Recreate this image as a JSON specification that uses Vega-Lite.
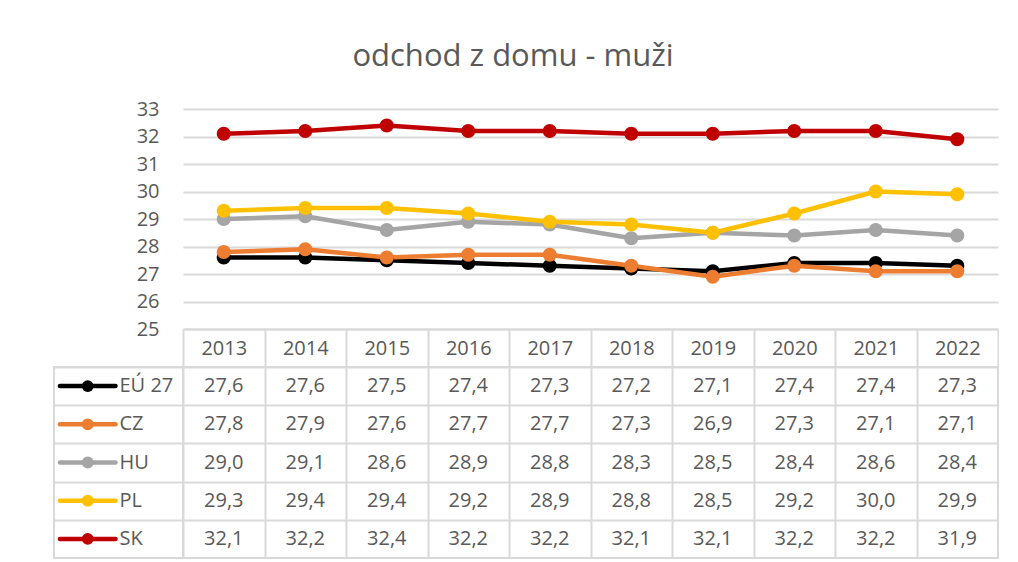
{
  "$schema": "https://vega.github.io/schema/vega-lite/v6.json",
  "background": "white",
  "padding": {"left": 53, "top": 41, "right": 0, "bottom": 0},
  "title": {"text": "odchod z domu - muži", "anchor": "middle", "fontSize": 31, "fontWeight": "normal", "color": "#595959", "offset": 26, "dx": -13},
  "columns": 2,
  "spacing": {"row": 38, "column": 0},
  "bounds": "flush",
  "align": "each",
  "data": {"values": [
    {"series": "EÚ 27", "year": "2013", "value": 27.6},
    {"series": "EÚ 27", "year": "2014", "value": 27.6},
    {"series": "EÚ 27", "year": "2015", "value": 27.5},
    {"series": "EÚ 27", "year": "2016", "value": 27.4},
    {"series": "EÚ 27", "year": "2017", "value": 27.3},
    {"series": "EÚ 27", "year": "2018", "value": 27.2},
    {"series": "EÚ 27", "year": "2019", "value": 27.1},
    {"series": "EÚ 27", "year": "2020", "value": 27.4},
    {"series": "EÚ 27", "year": "2021", "value": 27.4},
    {"series": "EÚ 27", "year": "2022", "value": 27.3},
    {"series": "CZ", "year": "2013", "value": 27.8},
    {"series": "CZ", "year": "2014", "value": 27.9},
    {"series": "CZ", "year": "2015", "value": 27.6},
    {"series": "CZ", "year": "2016", "value": 27.7},
    {"series": "CZ", "year": "2017", "value": 27.7},
    {"series": "CZ", "year": "2018", "value": 27.3},
    {"series": "CZ", "year": "2019", "value": 26.9},
    {"series": "CZ", "year": "2020", "value": 27.3},
    {"series": "CZ", "year": "2021", "value": 27.1},
    {"series": "CZ", "year": "2022", "value": 27.1},
    {"series": "HU", "year": "2013", "value": 29.0},
    {"series": "HU", "year": "2014", "value": 29.1},
    {"series": "HU", "year": "2015", "value": 28.6},
    {"series": "HU", "year": "2016", "value": 28.9},
    {"series": "HU", "year": "2017", "value": 28.8},
    {"series": "HU", "year": "2018", "value": 28.3},
    {"series": "HU", "year": "2019", "value": 28.5},
    {"series": "HU", "year": "2020", "value": 28.4},
    {"series": "HU", "year": "2021", "value": 28.6},
    {"series": "HU", "year": "2022", "value": 28.4},
    {"series": "PL", "year": "2013", "value": 29.3},
    {"series": "PL", "year": "2014", "value": 29.4},
    {"series": "PL", "year": "2015", "value": 29.4},
    {"series": "PL", "year": "2016", "value": 29.2},
    {"series": "PL", "year": "2017", "value": 28.9},
    {"series": "PL", "year": "2018", "value": 28.8},
    {"series": "PL", "year": "2019", "value": 28.5},
    {"series": "PL", "year": "2020", "value": 29.2},
    {"series": "PL", "year": "2021", "value": 30.0},
    {"series": "PL", "year": "2022", "value": 29.9},
    {"series": "SK", "year": "2013", "value": 32.1},
    {"series": "SK", "year": "2014", "value": 32.2},
    {"series": "SK", "year": "2015", "value": 32.4},
    {"series": "SK", "year": "2016", "value": 32.2},
    {"series": "SK", "year": "2017", "value": 32.2},
    {"series": "SK", "year": "2018", "value": 32.1},
    {"series": "SK", "year": "2019", "value": 32.1},
    {"series": "SK", "year": "2020", "value": 32.2},
    {"series": "SK", "year": "2021", "value": 32.2},
    {"series": "SK", "year": "2022", "value": 31.9}
  ]},
  "concat": [
    {
      "width": 129, "height": 220,
      "data": {"values": [{}]},
      "mark": {"type": "text"},
      "encoding": {"text": {"value": ""}}
    },
    {
      "width": 815, "height": 220,
      "encoding": {
        "x": {"field": "year", "type": "ordinal", "scale": {"type": "band", "paddingInner": 0, "paddingOuter": 0},
          "axis": {"title": null, "domain": true, "domainColor": "#d9d9d9", "domainWidth": 2, "ticks": true, "tickBand": "extent", "tickSize": 38, "tickColor": "#d9d9d9", "tickWidth": 2, "labelAngle": 0, "labelFontSize": 20, "labelColor": "#595959", "labelPadding": -19, "labelBaseline": "middle", "grid": false}},
        "y": {"field": "value", "type": "quantitative", "scale": {"domain": [25, 33], "nice": false, "zero": false},
          "axis": {"title": null, "values": [25, 26, 27, 28, 29, 30, 31, 32, 33], "domain": false, "ticks": false, "labelPadding": 24, "labelFontSize": 20, "labelColor": "#595959", "grid": true, "gridColor": "#d9d9d9", "gridWidth": 2}},
        "color": {"field": "series", "type": "nominal", "sort": ["EÚ 27", "CZ", "HU", "PL", "SK"],
          "scale": {"domain": ["EÚ 27", "CZ", "HU", "PL", "SK"], "range": ["#000000", "#ED7D31", "#A5A5A5", "#FFC000", "#C00000"]}, "legend": null}
      },
      "layer": [
        {"mark": {"type": "line", "strokeWidth": 4.5, "strokeCap": "round", "strokeJoin": "round"}},
        {"mark": {"type": "point", "filled": true, "size": 200, "opacity": 1}}
      ]
    },
    {
      "width": 129, "height": 191,
      "view": {"stroke": "#d9d9d9", "strokeWidth": 2},
      "transform": [{"filter": "datum.year == '2013'"}],
      "encoding": {
        "y": {"field": "series", "type": "nominal", "scale": {"type": "band", "domain": ["EÚ 27", "CZ", "HU", "PL", "SK"], "paddingInner": 0, "paddingOuter": 0},
          "axis": {"title": null, "labels": false, "ticks": false, "domain": false, "grid": true, "tickBand": "extent", "gridColor": "#d9d9d9", "gridWidth": 2}},
        "color": {"field": "series", "type": "nominal",
          "scale": {"domain": ["EÚ 27", "CZ", "HU", "PL", "SK"], "range": ["#000000", "#ED7D31", "#A5A5A5", "#FFC000", "#C00000"]}, "legend": null}
      },
      "layer": [
        {"mark": {"type": "rule", "strokeWidth": 4.5, "strokeCap": "round"},
          "encoding": {"x": {"datum": 6, "type": "quantitative", "scale": {"domain": [0, 129]}, "axis": null}, "x2": {"datum": 62}}},
        {"mark": {"type": "point", "filled": true, "size": 140, "opacity": 1},
          "encoding": {"x": {"datum": 34, "type": "quantitative"}}},
        {"mark": {"type": "text", "align": "left", "baseline": "middle", "fontSize": 20, "color": "#595959"},
          "encoding": {"x": {"datum": 66, "type": "quantitative"}, "text": {"field": "series"}, "color": {"value": "#595959"}}}
      ]
    },
    {
      "width": 815, "height": 191,
      "view": {"stroke": "#d9d9d9", "strokeWidth": 2},
      "mark": {"type": "text", "fontSize": 20, "color": "#595959", "baseline": "middle"},
      "encoding": {
        "x": {"field": "year", "type": "ordinal", "scale": {"type": "band", "paddingInner": 0, "paddingOuter": 0},
          "axis": {"title": null, "labels": false, "ticks": false, "domain": false, "grid": true, "tickBand": "extent", "gridColor": "#d9d9d9", "gridWidth": 2}},
        "y": {"field": "series", "type": "nominal", "scale": {"type": "band", "domain": ["EÚ 27", "CZ", "HU", "PL", "SK"], "paddingInner": 0, "paddingOuter": 0},
          "axis": {"title": null, "labels": false, "ticks": false, "domain": false, "grid": true, "tickBand": "extent", "gridColor": "#d9d9d9", "gridWidth": 2}},
        "text": {"field": "value", "type": "quantitative", "format": ".1f"}
      }
    }
  ],
  "config": {
    "font": "Open Sans",
    "view": {"stroke": null},
    "locale": {"number": {"decimal": ",", "thousands": " ", "grouping": [3], "currency": ["", " €"]}}
  }
}
